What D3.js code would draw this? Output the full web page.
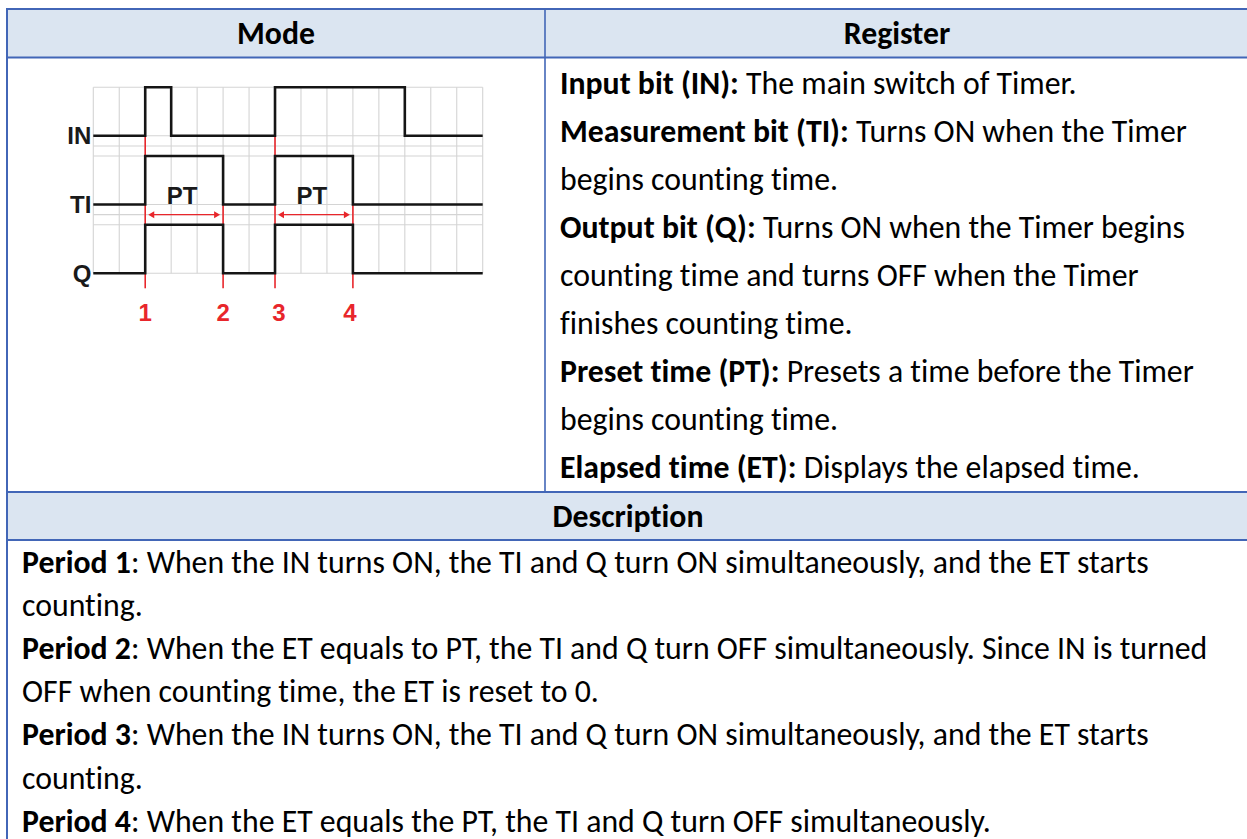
<!DOCTYPE html>
<html><head><meta charset="utf-8">
<script src="https://cdn.jsdelivr.net/npm/d3@7"></script>
<style>html,body{margin:0;padding:0;background:#fff;}svg{display:block;}text{font-variant-ligatures:none;font-feature-settings:"liga" 0;}</style>
</head><body>
<script>
// ---------- data ----------
const headerLabels = ["Mode", "Register"];
const descriptionTitle = "Description";
const signalNames = ["IN", "TI", "Q"];
// signal level per grid column (15 columns)
const inLevels = [0,0,1,0,0,0,0,1,1,1,1,1,0,0,0];
const tiLevels = [0,0,1,1,1,0,0,1,1,1,0,0,0,0,0];
const qLevels  = [0,0,1,1,1,0,0,1,1,1,0,0,0,0,0];
const edgeTimes = [2, 5, 7, 10];
const edgeLabels = ["1", "2", "3", "4"];
const inRiseEdges = [2, 7];
const ptRanges = [[2, 5], [7, 10]];
const ptLabel = "PT";
const registerLines = [
  ["Input bit (IN):", " The main switch of Timer."],
  ["Measurement bit (TI):", " Turns ON when the Timer"],
  ["", "begins counting time."],
  ["Output bit (Q):", " Turns ON when the Timer begins"],
  ["", "counting time and turns OFF when the Timer"],
  ["", "finishes counting time."],
  ["Preset time (PT):", " Presets a time before the Timer"],
  ["", "begins counting time."],
  ["Elapsed time (ET):", " Displays the elapsed time."]
];
const descriptionLines = [
  ["Period 1", ": When the IN turns ON, the TI and Q turn ON simultaneously, and the ET starts"],
  ["", "counting."],
  ["Period 2", ": When the ET equals to PT, the TI and Q turn OFF simultaneously. Since IN is turned"],
  ["", "OFF when counting time, the ET is reset to 0."],
  ["Period 3", ": When the IN turns ON, the TI and Q turn ON simultaneously, and the ET starts"],
  ["", "counting."],
  ["Period 4", ": When the ET equals the PT, the TI and Q turn OFF simultaneously."]
];

// ---------- layout ----------
const W = 1247, H = 839;
const border = "#4266b7", headFill = "#dbe5f1";
const FONT = "Carlito, Calibri, Lato, 'Open Sans', sans-serif";
const svg = d3.select("body").append("svg").attr("width", W).attr("height", H);

const tLeft = 7, tRight = 1249, tTop = 9, headBot = 57.5, colX = 545, rowBot = 492, descBot = 540;

// fills
svg.append("rect").attr("x", tLeft).attr("y", tTop).attr("width", tRight - tLeft).attr("height", headBot - tTop).attr("fill", headFill);
svg.append("rect").attr("x", tLeft).attr("y", rowBot).attr("width", tRight - tLeft).attr("height", descBot - rowBot).attr("fill", headFill);

// borders
const bl = svg.append("g").attr("stroke", border).attr("fill", "none");
[tTop, headBot, rowBot, descBot].forEach(y => bl.append("line").attr("x1", tLeft - 1).attr("x2", tRight).attr("y1", y).attr("y2", y).attr("stroke-width", 2));
bl.append("line").attr("x1", tLeft).attr("x2", tLeft).attr("y1", tTop).attr("y2", H).attr("stroke-width", 2);
bl.append("line").attr("x1", colX).attr("x2", colX).attr("y1", tTop).attr("y2", rowBot).attr("stroke-width", 1.6);

// calibrate font size so that a reference line has the target width
function measure(size) {
  const t = svg.append("text").attr("font-family", FONT).attr("font-size", size);
  t.append("tspan").attr("font-weight", "bold").text(registerLines[8][0]);
  t.append("tspan").text(registerLines[8][1]);
  const w = t.node().getComputedTextLength();
  t.remove();
  return w;
}
const fs = 29 * 580 / measure(29);

function writeLine(x, y, parts, anchor) {
  const t = svg.append("text").attr("x", x).attr("y", y).attr("font-family", FONT)
    .attr("font-size", fs).attr("fill", "#000").attr("text-anchor", anchor || "start");
  if (parts[0]) t.append("tspan").attr("font-weight", "bold").text(parts[0]);
  if (parts[1]) t.append("tspan").text(parts[1]);
}
writeLine((tLeft + colX) / 2, 44, [headerLabels[0], ""], "middle");
writeLine((colX + tRight) / 2, 44, [headerLabels[1], ""], "middle");
writeLine((tLeft + tRight) / 2, 527, [descriptionTitle, ""], "middle");
registerLines.forEach((p, i) => writeLine(560, 94 + i * 48, p));
descriptionLines.forEach((p, i) => writeLine(22, 573 + i * 43.1, p));

// ---------- timing diagram ----------
const x = d3.scaleLinear().domain([0, 15]).range([93.3, 482.7]);
const y = d3.scaleLinear().domain([0, 9.2]).range([87.3, 273.3]);
const rowStep = 3.4, pulseH = 2.4;
const levels = [inLevels, tiLevels, qLevels];
const dg = svg.append("g");
const red = "#e8262b";
const LBL = "Liberation Sans, Arial, sans-serif";

// grid
const hLines = [];
signalNames.forEach((n, k) => {
  hLines.push(k * rowStep, k * rowStep + pulseH);
  if (k < signalNames.length - 1) hLines.push(k * rowStep + pulseH + 0.5);
});
dg.append("g").selectAll("line").data(hLines).join("line")
  .attr("x1", x(0)).attr("x2", x(15)).attr("y1", d => y(d)).attr("y2", d => y(d))
  .attr("stroke", "#d4d4d4").attr("stroke-width", 1.1);
dg.append("g").selectAll("line").data(d3.range(0, 16)).join("line")
  .attr("x1", d => x(d)).attr("x2", d => x(d)).attr("y1", y(0)).attr("y2", y(9.2))
  .attr("stroke", "#d4d4d4").attr("stroke-width", 1.1);

// red markers
const mk = dg.append("g").attr("stroke", red).attr("stroke-width", 1.6);
edgeTimes.forEach(t => {
  if (inRiseEdges.includes(t)) mk.append("line").attr("x1", x(t)).attr("x2", x(t)).attr("y1", y(pulseH)).attr("y2", y(rowStep));
  mk.append("line").attr("x1", x(t)).attr("x2", x(t)).attr("y1", y(rowStep + pulseH)).attr("y2", y(2 * rowStep));
  mk.append("line").attr("x1", x(t)).attr("x2", x(t)).attr("y1", y(2 * rowStep + pulseH)).attr("y2", y(2 * rowStep + pulseH) + 15);
});

// PT arrows
const arrowY = y(rowStep + pulseH + 0.5);
ptRanges.forEach(([a, b]) => {
  const x1 = x(a) + 3, x2 = x(b) - 3;
  dg.append("line").attr("x1", x1 + 4).attr("x2", x2 - 4).attr("y1", arrowY).attr("y2", arrowY).attr("stroke", red).attr("stroke-width", 1.4);
  dg.append("path").attr("d", `M${x1},${arrowY} l6,-3.5 l0,7 Z`).attr("fill", red);
  dg.append("path").attr("d", `M${x2},${arrowY} l-6,-3.5 l0,7 Z`).attr("fill", red);
  dg.append("text").attr("x", (x(a) + x(b)) / 2 - 2).attr("y", y(rowStep + pulseH) - 0.5)
    .attr("text-anchor", "middle").attr("font-family", LBL)
    .attr("font-weight", "bold").attr("font-size", 24).attr("fill", "#1a1a1a").text(ptLabel);
});

// signals
const line = d3.line().x(d => x(d[0])).y(d => d[1]).curve(d3.curveStepAfter);
levels.forEach((lv, k) => {
  const pts = lv.map((v, i) => [i, y(k * rowStep + (v ? 0 : pulseH))]);
  pts.push([lv.length, pts[pts.length - 1][1]]);
  dg.append("path").attr("d", line(pts)).attr("fill", "none").attr("stroke", "#151515")
    .attr("stroke-width", 2.6).attr("stroke-linejoin", "miter");
  dg.append("text").attr("x", x(0) - 2).attr("y", y(k * rowStep + pulseH) + 8.5)
    .attr("text-anchor", "end").attr("font-family", LBL)
    .attr("font-weight", "bold").attr("font-size", 24).attr("fill", "#1a1a1a").text(signalNames[k]);
});

// edge numbers
const numOffset = [0, 0, 4, -3];
edgeTimes.forEach((t, i) => {
  dg.append("text").attr("x", x(t) + numOffset[i]).attr("y", 320.5)
    .attr("text-anchor", "middle").attr("font-family", LBL)
    .attr("font-weight", "bold").attr("font-size", 24).attr("fill", red).text(edgeLabels[i]);
});
</script>
</body></html>
